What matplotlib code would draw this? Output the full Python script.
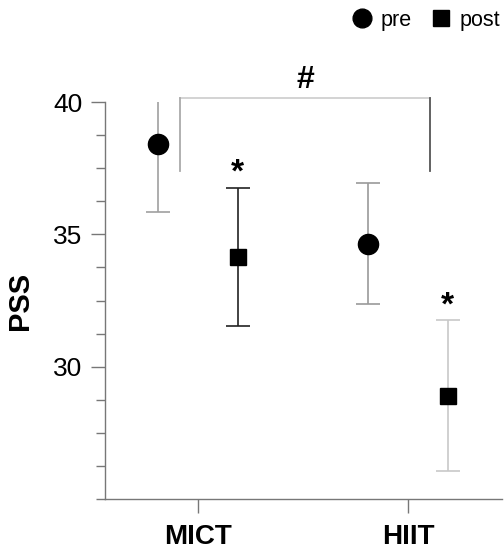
import numpy as np
import matplotlib
matplotlib.use("Agg")
import matplotlib.pyplot as plt
from matplotlib.lines import Line2D

# ============================================================
# DATOS
# ============================================================
GROUPS = ["MICT", "HIIT"]
PRE_MEAN = [38.4, 34.65]
PRE_SD = [2.55, 2.3]
POST_MEAN = [34.15, 28.9]
POST_SD = [2.6, 2.85]

PRE_ERR_COLORS = ["#a0a0a0", "#9a9a9a"]
POST_ERR_COLORS = ["#222222", "#c8c8c8"]

YLIM = (25, 40)
OFFSET = 0.19

plt.rcParams["font.family"] = ["Liberation Sans", "DejaVu Sans"]

fig = plt.figure(figsize=(5.04, 5.5), dpi=100)
ax = fig.add_axes([0.208, 0.0927, 0.788, 0.7218])

x = np.arange(len(GROUPS))

for i in range(len(GROUPS)):
    ax.errorbar(x[i] - OFFSET, PRE_MEAN[i], yerr=PRE_SD[i], fmt="none",
                ecolor=PRE_ERR_COLORS[i], elinewidth=1.2, capsize=8.5, capthick=1.2)
    ax.errorbar(x[i] + OFFSET, POST_MEAN[i], yerr=POST_SD[i], fmt="none",
                ecolor=POST_ERR_COLORS[i], elinewidth=1.2, capsize=8.5, capthick=1.2)

ax.plot(x - OFFSET, PRE_MEAN, "o", color="black", markersize=14.5, linestyle="none", zorder=3)
ax.plot(x + OFFSET, POST_MEAN, "s", color="black", markersize=11.5, linestyle="none", zorder=3)

# asteriscos (post vs pre)
for i in range(len(GROUPS)):
    ax.text(x[i] + OFFSET, POST_MEAN[i] + POST_SD[i] + 0.55, "*", ha="center", va="center",
            fontsize=24, fontweight="bold")

# corchete entre grupos
bx0, bx1 = -0.086, 1.105
by_top, by_bot = 40.15, 37.4
ax.plot([bx0, bx1], [by_top, by_top], color="#d0d0d0", lw=1.3, clip_on=False)
ax.plot([bx0, bx0], [by_bot, by_top], color="#aaaaaa", lw=1.3, clip_on=False)
ax.plot([bx1, bx1], [by_bot, by_top], color="#555555", lw=1.3, clip_on=False)
ax.text((bx0 + bx1) / 2, 40.83, "#", ha="center", va="center", fontsize=23, fontweight="bold")

ax.set_xlim(-0.443, 1.448)
ax.set_ylim(*YLIM)
ax.set_xticks(x)
ax.set_xticklabels(GROUPS, fontsize=20, fontweight="bold")
ax.set_yticks([30, 35, 40])
ax.set_yticks(np.arange(25, 40.01, 1.25), minor=True)
ax.tick_params(axis="y", which="major", labelsize=19, length=10, width=1, color="#777777", pad=6)
ax.tick_params(axis="y", which="minor", length=6.5, width=1, color="#777777")
ax.tick_params(axis="x", which="major", length=10, width=1, color="#777777", pad=8)
ax.set_ylabel("PSS", fontsize=21, fontweight="bold", labelpad=14)

for side in ["top", "right"]:
    ax.spines[side].set_visible(False)
for side in ["left", "bottom"]:
    ax.spines[side].set_color("#777777")
    ax.spines[side].set_linewidth(1)

handles = [
    Line2D([], [], marker="o", color="black", linestyle="none", markersize=13.5),
    Line2D([], [], marker="s", color="black", linestyle="none", markersize=11),
]
fig.legend(handles, ["pre", "post"], loc="upper right", bbox_to_anchor=(1.03, 1.017),
           ncol=2, frameon=False, fontsize=15.5, handletextpad=0.35, columnspacing=0.85,
           handlelength=1.0)

fig.savefig("out.png", dpi=100)
